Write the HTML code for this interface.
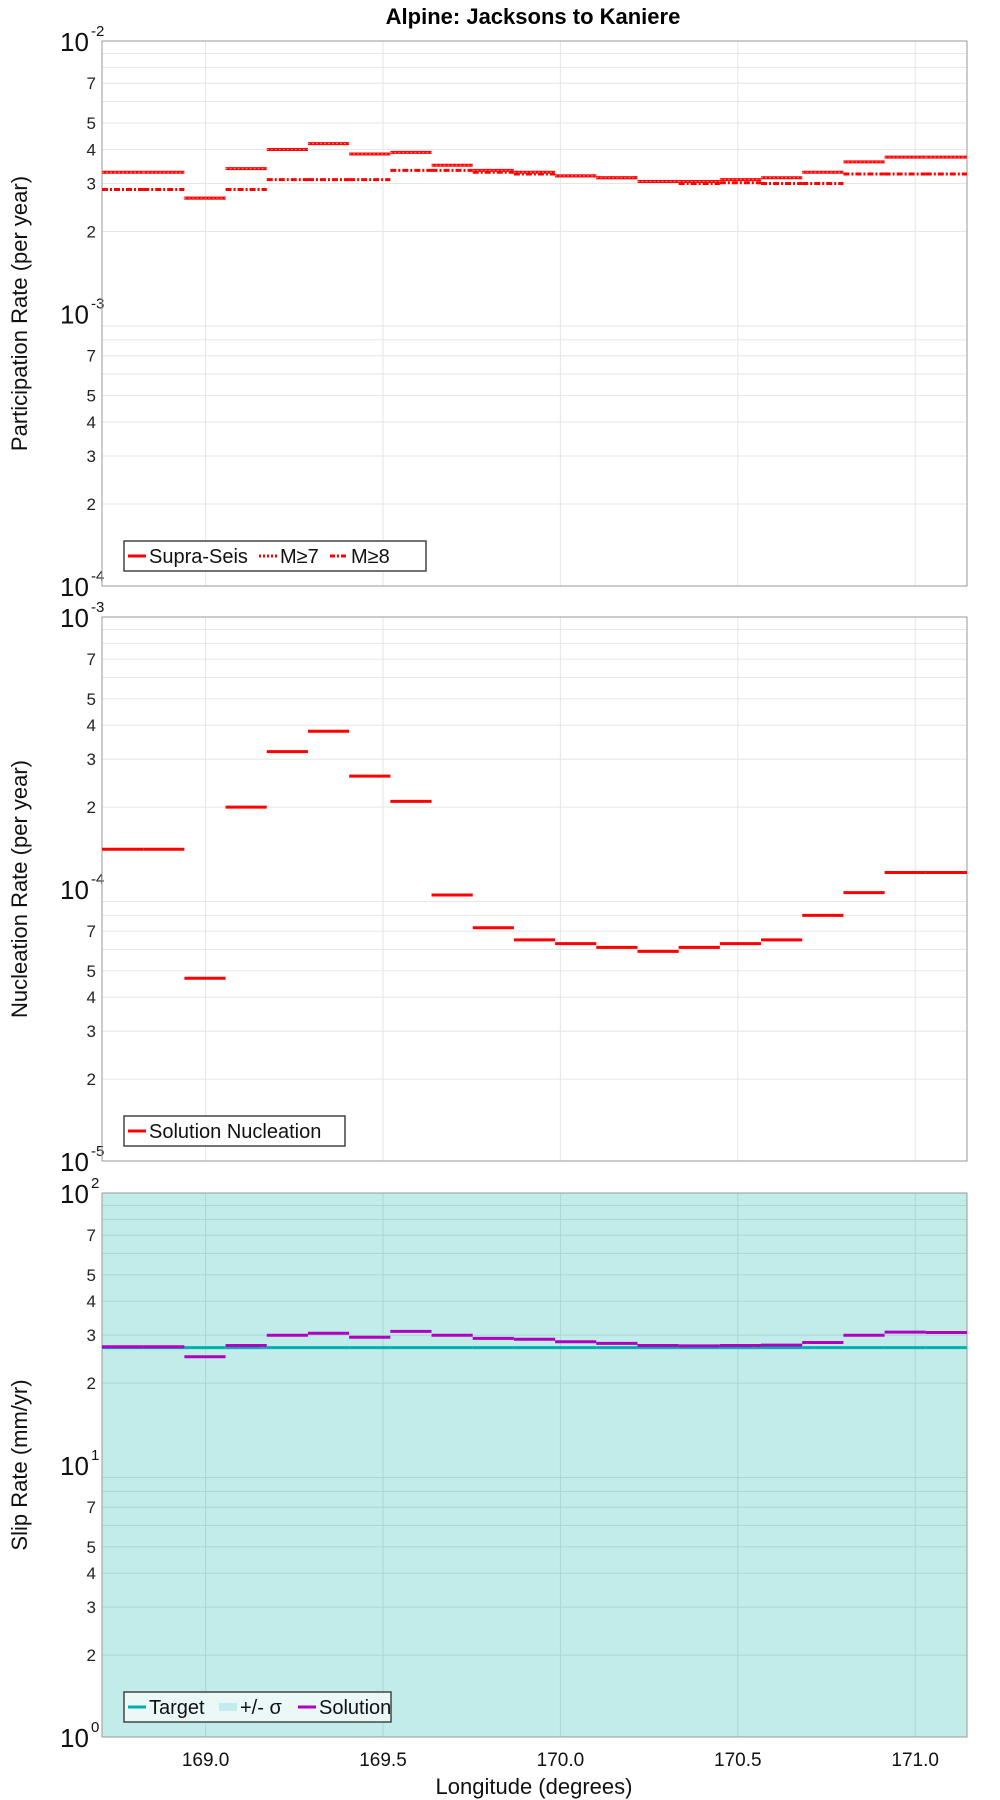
<!DOCTYPE html>
<html><head><meta charset="utf-8"><style>
body{margin:0;background:#fff;}
svg{display:block;font-family:"Liberation Sans",sans-serif;}
</style></head><body>
<svg id="c" width="1000" height="1800" viewBox="0 0 1000 1800"></svg>
<script>
const lonMin = 168.708, lonMax = 171.146, nSeg = 21;
const xTicks = [169.0, 169.5, 170.0, 170.5, 171.0];
const supraSeis = [3.3e-3,3.3e-3,2.65e-3,3.4e-3,4.0e-3,4.2e-3,3.85e-3,3.9e-3,3.5e-3,3.35e-3,3.3e-3,3.2e-3,3.15e-3,3.05e-3,3.05e-3,3.1e-3,3.15e-3,3.3e-3,3.6e-3,3.75e-3,3.75e-3];
const m7 = [3.3e-3,3.3e-3,2.65e-3,3.4e-3,4.0e-3,4.2e-3,3.85e-3,3.9e-3,3.5e-3,3.35e-3,3.3e-3,3.2e-3,3.15e-3,3.05e-3,3.05e-3,3.1e-3,3.15e-3,3.3e-3,3.6e-3,3.75e-3,3.75e-3];
const m8 = [2.85e-3,2.85e-3,2.65e-3,2.85e-3,3.1e-3,3.1e-3,3.1e-3,3.35e-3,3.35e-3,3.3e-3,3.25e-3,3.2e-3,3.15e-3,3.05e-3,3.0e-3,3.02e-3,3.0e-3,3.0e-3,3.25e-3,3.25e-3,3.25e-3];
const nucleation = [1.4e-4,1.4e-4,4.7e-5,2.0e-4,3.2e-4,3.8e-4,2.6e-4,2.1e-4,9.5e-5,7.2e-5,6.5e-5,6.3e-5,6.1e-5,5.9e-5,6.1e-5,6.3e-5,6.5e-5,8.0e-5,9.7e-5,1.15e-4,1.15e-4];
const slipTarget = [27,27,27,27,27,27,27,27,27,27,27,27,27,27,27,27,27,27,27,27,27];
const slipSolution = [27.2,27.2,25,27.5,30,30.5,29.5,31,30,29.2,29,28.4,28,27.5,27.4,27.5,27.6,28.2,30,30.8,30.7];
const minorLabels = [2,3,4,5,7];

const NS='http://www.w3.org/2000/svg';
const svg=document.getElementById('c');
const L=102,R=967;
function el(tag,attrs,parent){const e=document.createElementNS(NS,tag);for(const k in attrs)e.setAttribute(k,attrs[k]);(parent||svg).appendChild(e);return e;}
function xs(v){return L+(v-lonMin)/(lonMax-lonMin)*(R-L);}
const segW=(lonMax-lonMin)/nSeg;

function panel(top,bot,eMin,eMax,bg,gridCol,name,ylabel){
  const g=el('g',{});
  
  
  const ys=v=>bot-(Math.log10(v)-eMin)/(eMax-eMin)*(bot-top);
  const bgR=el('rect',{x:L,y:top,width:R-L,height:bot-top,fill:bg},g);
  
  
  xTicks.forEach(t=>{const ln=el('line',{x1:xs(t),x2:xs(t),y1:top,y2:bot,stroke:gridCol,'stroke-width':1},g);
    
    });
  for(let e=eMin;e<eMax;e++){for(let m=1;m<=9;m++){const v=m*Math.pow(10,e);const y=ys(v);
    if(m>1){const ln=el('line',{x1:L,x2:R,y1:y,y2:y,stroke:gridCol,'stroke-width':1},g);
      
      }
    if(minorLabels.includes(m)){const t=el('text',{x:96,y:y+6,'text-anchor':'end','font-size':17,fill:'#222'},g);t.textContent=m;
      
      }
  }}
  for(let e=eMin;e<=eMax;e++){const y=ys(Math.pow(10,e));
    const t=el('text',{x:60,y:y+10,'font-size':26,fill:'#111'},g);t.textContent='10';
    
    
    const s=el('text',{x:91,y:y-5,'font-size':15,fill:'#111'},g);s.textContent=String(e).replace('-','-');
    
    }
  const fr=el('rect',{x:L,y:top,width:R-L,height:bot-top,fill:'none',stroke:'#999','stroke-width':1},g);
  
  
  const yl=el('text',{x:0,y:0,'font-size':22,'text-anchor':'middle',fill:'#111',transform:`translate(27,${(top+bot)/2}) rotate(-90)`},g);
  yl.textContent=ylabel;
  
  
  return {g,ys};
}
function steps(p,arr,color,w,dash,name){
  arr.forEach((v,i)=>{const x1=xs(lonMin+i*segW),x2=xs(lonMin+(i+1)*segW);const y=p.ys(v);
    const a={x1,x2,y1:y,y2:y,stroke:color,'stroke-width':w};if(dash)a['stroke-dasharray']=dash;
    const ln=el('line',a,p.g);
    
    });
}
function legend(x,y,w,items,bg){
  const g=el('g',{});
  
  
  el('rect',{x,y,width:w,height:30,fill:bg,stroke:'#444','stroke-width':1.5},g);
  let cx=x+4;
  items.forEach(it=>{
    const a={x1:cx,x2:cx+18,y1:y+15,y2:y+15,stroke:it.c,'stroke-width':it.w||3};if(it.d)a['stroke-dasharray']=it.d;
    const ln=el('line',a,g);
    
    
    const t=el('text',{x:cx+21,y:y+22,'font-size':20,fill:'#111'},g);t.textContent=it.t;
    
    
    cx+=21+it.tw+4;
  });
}

const title=el('text',{x:533,y:24,'text-anchor':'middle','font-size':22,'font-weight':'bold',fill:'#000'});
title.textContent='Alpine: Jacksons to Kaniere';



const p1=panel(41,586,-4,-2,'#fff','#e6e6e6','participation-panel','Participation Rate (per year)');
steps(p1,m8,'#ff0000',3,'6,2,2,2','m8-step');
steps(p1,supraSeis,'#ff0000',3,null,'supra-seis-step');
steps(p1,m7,'#ff8080',1,'2,2','m7-step');
legend(124,541,302,[{c:'red',t:'Supra-Seis',tw:106},{c:'red',t:'M≥7',tw:46,d:'2,2'},{c:'red',t:'M≥8',tw:46,d:'5,2,2,2'}],'#fff');

const p2=panel(617,1161,-5,-3,'#fff','#e6e6e6','nucleation-panel','Nucleation Rate (per year)');
steps(p2,nucleation,'#ff0000',3,null,'nucleation-step');
legend(124,1116,221,[{c:'red',t:'Solution Nucleation',tw:188}],'#fff');

const p3=panel(1193,1737,0,2,'#c2ecea','#abd6d4','slip-rate-panel','Slip Rate (mm/yr)');
steps(p3,slipTarget,'#00b0b0',3,null,'target-step');
steps(p3,slipSolution,'#b000c0',3,null,'solution-step');
legend(124,1692,267,[{c:'#00b0b0',t:'Target',tw:66},{c:'#c2ecea',t:'+/- σ',tw:54,w:8},{c:'#b000c0',t:'Solution',tw:86}],'#eaf9f8');

xTicks.forEach(t=>{const tx=el('text',{x:xs(t),y:1766,'text-anchor':'middle','font-size':19,fill:'#111'});
  tx.textContent=t.toFixed(1);
  
  });
const xt=el('text',{x:534,y:1794,'text-anchor':'middle','font-size':22,fill:'#111'});
xt.textContent='Longitude (degrees)';


</script>
</body></html>
